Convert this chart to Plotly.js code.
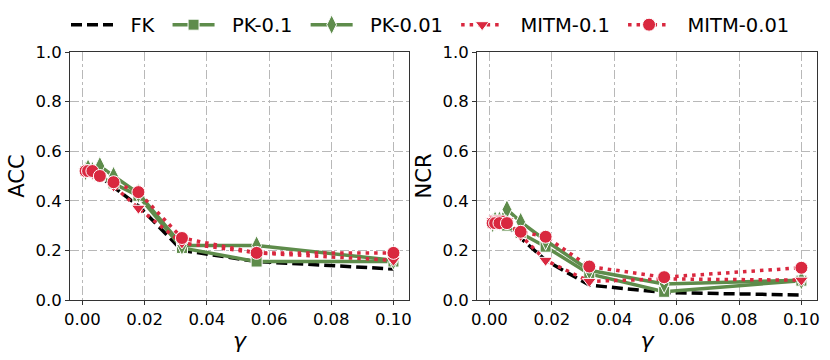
<!DOCTYPE html>
<html>
<head>
<meta charset="utf-8">
<script src="https://cdn.plot.ly/plotly-3.0.1.min.js"></script>
<style>
  html, body { margin: 0; padding: 0; background: #fff; }
  #plot { width: 830px; height: 360px; }
</style>
</head>
<body>
<div id="plot"></div>
<script>
// gamma values (x)
const gamma = [0.001, 0.0018, 0.0032, 0.0056, 0.01, 0.018, 0.032, 0.056, 0.1];

// ACC panel
const acc_fk     = [0.51, 0.52, 0.525, 0.50, 0.455, 0.38, 0.20, 0.155, 0.125];
const acc_pk01   = [0.52, 0.52, 0.52, 0.50, 0.47, 0.42, 0.21, 0.155, 0.155];
const acc_pk001  = [0.52, 0.53, 0.52, 0.54, 0.50, 0.43, 0.22, 0.22, 0.16];
const acc_mitm01 = [0.52, 0.52, 0.51, 0.50, 0.46, 0.37, 0.23, 0.19, 0.16];
const acc_mitm001= [0.52, 0.52, 0.52, 0.50, 0.475, 0.435, 0.25, 0.19, 0.19];

// NCR panel
const ncr_fk     = [0.31, 0.32, 0.33, 0.30, 0.25, 0.16, 0.06, 0.03, 0.02];
const ncr_pk01   = [0.31, 0.31, 0.31, 0.30, 0.27, 0.215, 0.105, 0.033, 0.078];
const ncr_pk001  = [0.31, 0.32, 0.32, 0.365, 0.315, 0.24, 0.12, 0.065, 0.08];
const ncr_mitm01 = [0.32, 0.33, 0.33, 0.32, 0.26, 0.16, 0.075, 0.085, 0.08];
const ncr_mitm001= [0.31, 0.31, 0.31, 0.31, 0.275, 0.255, 0.135, 0.092, 0.13];

const names = ["FK", "PK-0.1", "PK-0.01", "MITM-0.1", "MITM-0.01"];
const tickVals = [0, 0.02, 0.04, 0.06, 0.08, 0.1];
const tickText = ["0.00", "0.02", "0.04", "0.06", "0.08", "0.10"];

const GREEN = "#5e8c4b";
const RED = "#d9283f";
const FONT = "DejaVu Sans";
const NB = "\u00a0";

function styles() {
  return [
    { line: { color: "#000", width: 3.5, dash: "11px,5px" }, mode: "lines" },
    { line: { color: GREEN, width: 3.5 }, mode: "lines+markers",
      marker: { symbol: "square", size: 11, color: GREEN, line: { color: "#fff", width: 1 } } },
    { line: { color: GREEN, width: 3.5 }, mode: "lines+markers",
      marker: { symbol: "diamond-tall", size: 14, color: GREEN, line: { color: "#fff", width: 1 } } },
    { line: { color: RED, width: 3.5, dash: "3.5px,5px" }, mode: "lines+markers",
      marker: { symbol: "triangle-down", size: 12, color: RED, line: { color: "#fff", width: 1 } } },
    { line: { color: RED, width: 3.5, dash: "3.5px,5px" }, mode: "lines+markers",
      marker: { symbol: "circle", size: 13, color: RED, line: { color: "#fff", width: 1 } } }
  ];
}

const accSeries = [acc_fk, acc_pk01, acc_pk001, acc_mitm01, acc_mitm001];
const ncrSeries = [ncr_fk, ncr_pk01, ncr_pk001, ncr_mitm01, ncr_mitm001];

let data = [];
const st = styles();
accSeries.forEach((ys, i) => {
  const tail = i < names.length - 1 ? NB + "\u200a" : "";
  data.push(Object.assign({ name: NB + NB + names[i] + tail, x: gamma, y: ys, xaxis: "x", yaxis: "y",
    legendgroup: names[i], showlegend: true }, st[i]));
});
ncrSeries.forEach((ys, i) => {
  data.push(Object.assign({ name: names[i], x: gamma, y: ys, xaxis: "x2", yaxis: "y2",
    legendgroup: names[i], showlegend: false }, st[i]));
});

function xAxis(domain, anchor) {
  return {
    domain: domain, anchor: anchor,
    range: [-0.004, 0.105],
    tickvals: tickVals, ticktext: tickText,
    ticks: "outside", ticklen: 4, tickcolor: "#333",
    tickfont: { family: FONT, size: 16.5, color: "#000" },
    showline: true, mirror: true, linecolor: "#333", linewidth: 1,
    showgrid: true, gridcolor: "#b8b8b8", gridwidth: 1, griddash: "dashdot",
    zeroline: false,
    title: { text: "<i>γ</i>", font: { family: FONT, size: 22, color: "#000" }, standoff: 4 }
  };
}
function yAxis(domain, anchor, label) {
  return {
    domain: domain, anchor: anchor,
    range: [0, 1],
    tickvals: [0, 0.2, 0.4, 0.6, 0.8, 1.0],
    ticktext: ["0.0", "0.2", "0.4", "0.6", "0.8", "1.0"],
    ticks: "outside", ticklen: 4, tickcolor: "#333",
    tickfont: { family: FONT, size: 16.5, color: "#000" },
    showline: true, mirror: true, linecolor: "#333", linewidth: 1,
    showgrid: true, gridcolor: "#b8b8b8", gridwidth: 1, griddash: "dashdot",
    zeroline: false,
    title: { text: label, font: { family: FONT, size: 21, color: "#000" }, standoff: 5 }
  };
}

const layout = {
  width: 830, height: 360,
  margin: { l: 0, r: 0, t: 52, b: 60 },
  paper_bgcolor: "#fff", plot_bgcolor: "#fff",
  font: { family: FONT, color: "#000" },
  xaxis: xAxis([70 / 830, 409 / 830], "y"),
  yaxis: yAxis([0, 1], "x", "ACC"),
  xaxis2: xAxis([477 / 830, 817 / 830], "y2"),
  yaxis2: yAxis([0, 1], "x2", "NCR"),
  showlegend: true,
  legend: {
    orientation: "h", x: 66 / 830, xanchor: "left",
    y: 1 - 25 / 360, yanchor: "middle",
    xref: "container", yref: "container",
    font: { family: FONT, size: 19.5, color: "#000" },
    itemwidth: 42, tracegroupgap: 0, bgcolor: "rgba(0,0,0,0)"
  }
};

Plotly.newPlot("plot", data, layout, { displayModeBar: false, staticPlot: true });
</script>
</body>
</html>
